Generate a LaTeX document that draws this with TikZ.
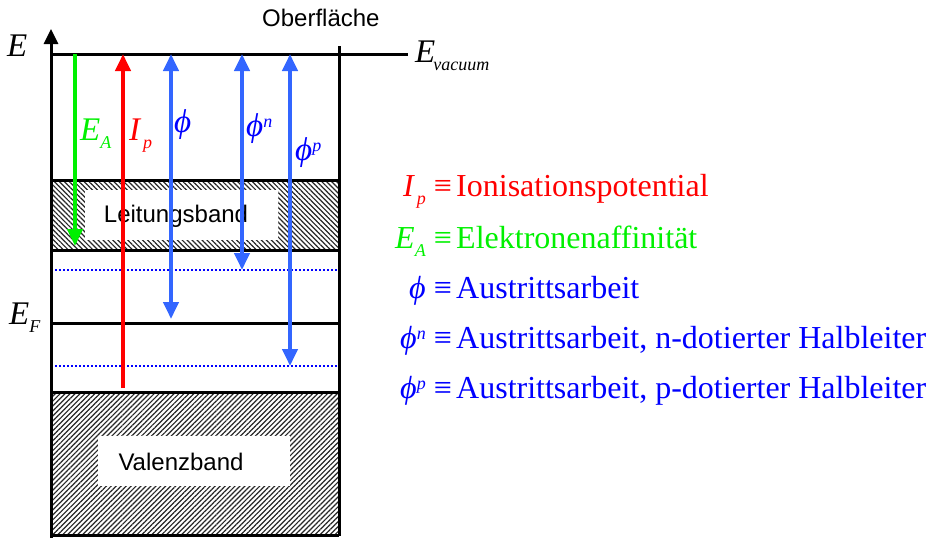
\documentclass[tikz,border=0pt]{standalone}
\usepackage{fontspec}
\setmainfont{Liberation Serif}
\newfontfamily\arial{Liberation Sans}
\usetikzlibrary{patterns.meta,arrows.meta}
\definecolor{arrblue}{RGB}{51,102,255}
\definecolor{txtblue}{RGB}{0,0,255}
\definecolor{myred}{RGB}{255,0,0}
\definecolor{mygreen}{RGB}{0,240,0}
\newcommand{\lo}[1]{\raisebox{-8pt}{\fontsize{18}{20}\selectfont #1}}
\newcommand{\hi}[1]{\raisebox{9pt}{\fontsize{18}{20}\selectfont #1}}
\tikzset{
  frame/.style={line width=3pt},
  bandNE/.style={pattern={Lines[angle=45,distance=3.5pt,line width=1.2pt]},pattern color=black!85},
  bandNW/.style={pattern={Lines[angle=-45,distance=3.5pt,line width=1.2pt]},pattern color=black!85},
  whitebox/.style={fill=white,draw=none,inner sep=0pt},
  sanslbl/.style={font=\arial\fontsize{24}{28}\selectfont,inner sep=0pt},
  mathlbl/.style={font=\itshape\fontsize{33}{36}\selectfont,inner sep=0pt},
  legend/.style={font=\fontsize{32}{36}\selectfont,inner sep=0pt,anchor=base west},
  legsym/.style={font=\fontsize{32}{36}\selectfont,inner sep=0pt,anchor=base east},
  energy/.style={line width=4pt,-{Triangle[length=17pt,width=15pt]}},
  energy2/.style={line width=4pt,{Triangle[length=17pt,width=15pt]}-{Triangle[length=17pt,width=15pt]}},
  dotline/.style={txtblue,line width=1.3pt,dash pattern=on 1.5pt off 2.5pt},
}
\begin{document}
\begin{tikzpicture}[x=1pt,y=-1pt]
\useasboundingbox (0,0) rectangle (931,538);
% bands
\fill[bandNW] (51,180) rectangle (339,250);
\fill[bandNE] (51,392) rectangle (339,535);
\node[whitebox,minimum width=193pt,minimum height=50pt] (cbbox) at (181.5,215) {};
\node[sanslbl] (cb) at (176,216) {Leitungsband};
\node[whitebox,minimum width=192pt,minimum height=50pt] (vbbox) at (194,461) {};
\node[sanslbl] (vb) at (181,462) {Valenzband};
% dotted levels
\coordinate (d1l) at (51,270); \coordinate (d1r) at (339,270);
\coordinate (d2l) at (51,366); \coordinate (d2r) at (339,366);
\draw[dotline] (d1l) -- (d1r);
\draw[dotline] (d2l) -- (d2r);
% frame lines
\coordinate (axb) at (51,538); \coordinate (axt) at (51,29);
\draw[frame,-{Triangle[length=15pt,width=14pt]}] (axb) -- (axt);
\coordinate (vl) at (51,54); \coordinate (vr) at (408,54);
\draw[frame] (vl) -- (vr);
\coordinate (rt) at (339,46); \coordinate (rb) at (339,536);
\draw[frame] (rt) -- (rb);
\draw[frame] (51,180) -- (339,180);
\draw[frame] (51,250) -- (339,250);
\draw[frame] (51,323) -- (339,323);
\draw[frame] (51,392) -- (339,392);
\draw[frame] (51,535) -- (339,535);
% arrows
\coordinate (g0) at (75,54); \coordinate (g1) at (75,246);
\draw[energy,mygreen] (g0) -- (g1);
\coordinate (r0) at (123,388); \coordinate (r1) at (123,54);
\draw[energy,myred] (r0) -- (r1);
\coordinate (b0) at (171,54); \coordinate (b1) at (171,319);
\draw[energy2,arrblue] (b0) -- (b1);
\coordinate (n0) at (242,54); \coordinate (n1) at (242,270);
\draw[energy2,arrblue] (n0) -- (n1);
\coordinate (p0) at (290,54); \coordinate (p1) at (290,366);
\draw[energy2,arrblue] (p0) -- (p1);
% labels
\node[mathlbl,anchor=base west] (E) at (7,56) {E};
\node[mathlbl,anchor=base west] (Evac) at (415,62) {E\hspace{-2pt}\lo{vacuum}};
\node[sanslbl,anchor=base west] (ober) at (262,27) {Oberfläche};
\node[mathlbl,anchor=base west] (EF) at (9,324) {E\hspace{0pt}\lo{F}};
\node[mathlbl,anchor=base west,mygreen] (EA) at (80,140) {E\hspace{0pt}\lo{A}};
\node[mathlbl,anchor=base west,myred] (Ip) at (129,140) {I\hspace{3pt}\lo{p}};
\node[mathlbl,anchor=base west,txtblue] (phi) at (174,132) {ϕ};
\node[mathlbl,anchor=base west,txtblue] (phin) at (246,136) {ϕ\hi{n}};
\node[mathlbl,anchor=base west,txtblue] (phip) at (295,160) {ϕ\hi{p}};
% legend
\node[legsym,myred] (l1s) at (452,196) {\itshape I\hspace{3pt}\lo{p} \upshape≡};
\node[legend,myred] (l1) at (456,196) {Ionisationspotential};
\node[legsym,mygreen] (l2s) at (452,248) {\itshape E\hspace{0pt}\lo{A} \upshape≡};
\node[legend,mygreen] (l2) at (456,248) {Elektronenaffinität};
\node[legsym,txtblue] (l3s) at (452,298) {\itshape ϕ \upshape≡};
\node[legend,txtblue] (l3) at (456,298) {Austrittsarbeit};
\node[legsym,txtblue] (l4s) at (452,348) {\itshape ϕ\hi{n} \upshape≡};
\node[legend,txtblue] (l4) at (456,348) {Austrittsarbeit, n-dotierter Halbleiter};
\node[legsym,txtblue] (l5s) at (452,398) {\itshape ϕ\hi{p} \upshape≡};
\node[legend,txtblue] (l5) at (456,398) {Austrittsarbeit, p-dotierter Halbleiter};
\end{tikzpicture}
\end{document}
